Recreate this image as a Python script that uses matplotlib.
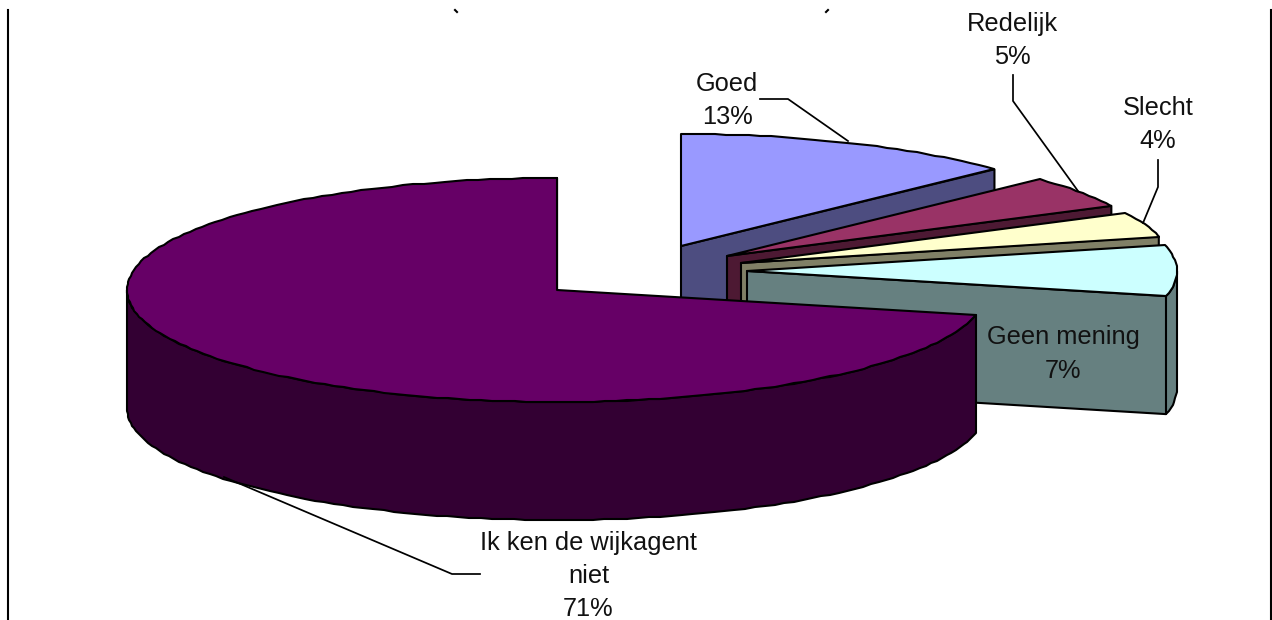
import numpy as np
import matplotlib
matplotlib.use("Agg")
import matplotlib.pyplot as plt
from matplotlib.patches import Polygon

plt.rcParams["font.family"] = ["Liberation Sans", "DejaVu Sans"]

categories = ["Goed", "Redelijk", "Slecht", "Geen mening", "Ik ken de wijkagent\nniet"]
percent_labels = ["13%", "5%", "4%", "7%", "71%"]
shares = [13.0, 4.6, 3.6, 7.4, 71.4]

top_colors = ["#9999FF", "#993366", "#FFFFCC", "#CCFFFF", "#660066"]
side_colors = ["#4D4D80", "#4D1933", "#808066", "#668080", "#330033"]

# exploded slice tips, picture pixels
tip_x = [681, 727, 741, 747, 557]
tip_y = [246, 256, 263, 271, 290]

rx = 430
ry = 112
depth = 118
line_w = 1.5

# label centres
label_x = [727, 1012, 1158, 1063, 588.5]
label_y = [100.5, 40.5, 124.5, 354, 576]

leaders = [
    ([760, 788, 848], [99, 99, 141]),
    ([1013, 1013, 1078], [75, 101, 191]),
    ([1158, 1158, 1143], [160, 187, 223]),
    ([480, 452, 224], [574, 574, 477]),
]


def arc(cx, cy, a0, a1):
    # angles clockwise from 12 o'clock, in degrees
    n = max(2, int(abs(a1 - a0) / 1.5) + 1)
    t = np.radians(np.linspace(a0, a1, n))
    x = cx + rx * np.sin(t)
    y = cy - ry * np.cos(t)
    return np.round(x), np.round(y)


def poly(ax, x, y, color):
    ax.add_patch(Polygon(np.column_stack([x, y]), closed=True, facecolor=color,
                         edgecolor="black", linewidth=line_w, joinstyle="round"))


fig = plt.figure(figsize=(12.72, 6.2), dpi=100)
ax = fig.add_axes([0, 0, 1, 1])
ax.set_xlim(0, 1272)
ax.set_ylim(620, 0)
ax.axis("off")

# frame lines left and right, cut off at the bottom
ax.plot([8, 8], [10, 620], color="black", lw=1.5)
ax.plot([1270.5, 1270.5], [10, 620], color="black", lw=1.5)

# what is left of the clipped title
ax.plot([455, 457], [10, 12], color="black", lw=1.5)
ax.plot([828, 826], [10, 12], color="black", lw=1.5)

edges = np.cumsum([0] + shares) / sum(shares) * 360
for i in range(len(shares)):
    cx, cy = tip_x[i], tip_y[i]
    a0, a1 = edges[i], edges[i + 1]

    # radial wall at the end of the slice
    ex = cx + rx * np.sin(np.radians(a1))
    ey = cy - ry * np.cos(np.radians(a1))
    poly(ax, [cx, ex, ex, cx], [cy, ey, ey + depth, cy + depth], side_colors[i])

    # outer wall, only the part facing the viewer
    lo, hi = max(a0, 90), min(a1, 270)
    if hi > lo:
        wx, wy = arc(cx, cy, lo, hi)
        poly(ax, np.r_[wx, wx[::-1]], np.r_[wy, wy[::-1] + depth], side_colors[i])

    # top face
    tx, ty = arc(cx, cy, a0, a1)
    poly(ax, np.r_[cx, tx], np.r_[cy, ty], top_colors[i])

for lx, ly in leaders:
    ax.plot(lx, ly, color="black", lw=1.25)

for i in range(len(categories)):
    ax.text(label_x[i], label_y[i], categories[i] + "\n" + percent_labels[i],
            ha="center", va="center", fontsize=18.3, color="#111111",
            linespacing=1.48)

fig.savefig("out.png", dpi=100)
